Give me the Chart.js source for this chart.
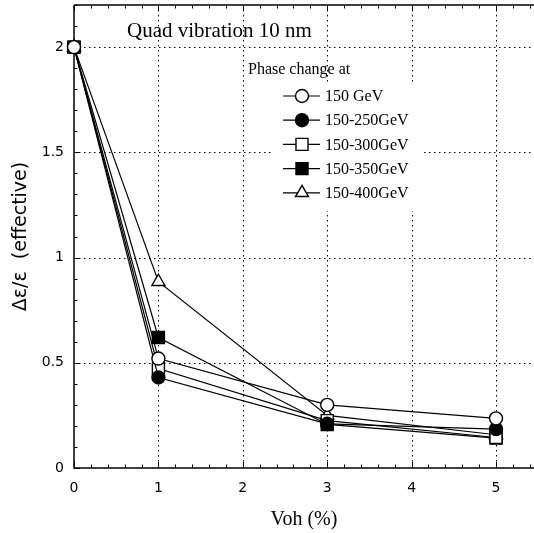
<!DOCTYPE html>
<html><head><meta charset="utf-8">
<script src="https://cdn.jsdelivr.net/npm/chart.js@4/dist/chart.umd.min.js"></script>
<style>html,body{margin:0;padding:0;background:#fff;}#wrap{width:534px;height:533px;}</style>
</head><body><div id="wrap"><canvas id="c" width="534" height="533"></canvas></div>
<script>
const xValues = [0, 1, 3, 5];
const series150 = [2.0, 0.52, 0.30, 0.236];
const series150_250 = [2.0, 0.43, 0.21, 0.185];
const series150_300 = [2.0, 0.473, 0.225, 0.145];
const series150_350 = [2.0, 0.62, 0.207, 0.142];
const series150_400 = [2.0, 0.885, 0.25, 0.158];
const seriesNames = ['150 GeV', '150-250GeV', '150-300GeV', '150-350GeV', '150-400GeV'];
const xTicks = [0, 1, 2, 3, 4, 5];
const yTicks = [0, 0.5, 1, 1.5, 2];
const yTickLabels = ['0', '0.5', '1', '1.5', '2'];
const chartTitle = 'Quad vibration 10 nm';
const legendTitle = 'Phase change at';
const xTitle = 'Voh (%)';
const yTitle = 'Δε/ε  (effective)';

function pts(arr){ return xValues.map((x,i)=>({x:x,y:arr[i]})); }
const styles = [
  {pointStyle:'circle', fill:'#fff', r:6.5},
  {pointStyle:'circle', fill:'#000', r:6.5},
  {pointStyle:'rect', fill:'#fff', r:8.5},
  {pointStyle:'rect', fill:'#000', r:8.5},
  {pointStyle:'triangle', fill:'#fff', r:7.5}
];
const allSeries = [series150, series150_250, series150_300, series150_350, series150_400];
const datasets = allSeries.map((s,i)=>({
  label: seriesNames[i],
  data: pts(s),
  borderColor:'#000', borderWidth:1.2,
  pointStyle: styles[i].pointStyle,
  pointRadius: styles[i].r,
  pointBackgroundColor: styles[i].fill,
  pointBorderColor:'#000', pointBorderWidth:1.4,
  showLine:true, tension:0, clip:false
}));

function noPad(s){ s.paddingTop = 0; s.paddingBottom = 0; s.paddingLeft = 0; s.paddingRight = 0; }

const decor = {
  id:'decor',
  beforeDatasetsDraw(chart){
    const ctx = chart.ctx, a = chart.chartArea;
    const xs = chart.scales.x, ys = chart.scales.y;
    ctx.save();
    ctx.strokeStyle = '#000'; ctx.lineWidth = 1; ctx.setLineDash([1.5,3.5]);
    xTicks.forEach(v=>{ if(v===0) return; const px = Math.round(xs.getPixelForValue(v))+0.5;
      ctx.beginPath(); ctx.moveTo(px,a.top); ctx.lineTo(px,a.bottom); ctx.stroke(); });
    yTicks.forEach(v=>{ if(v===0) return; const py = Math.round(ys.getPixelForValue(v))+0.5;
      ctx.beginPath(); ctx.moveTo(a.left,py); ctx.lineTo(a.right,py); ctx.stroke(); });
    ctx.setLineDash([]);
    ctx.fillStyle = '#fff';
    ctx.fillRect(272, 82, 150, 129);
    ctx.lineWidth = 1.5; ctx.strokeStyle = '#000';
    ctx.beginPath();
    ctx.moveTo(a.left, a.top); ctx.lineTo(a.left, a.bottom); ctx.lineTo(a.right, a.bottom);
    ctx.moveTo(a.left, a.top); ctx.lineTo(a.right, a.top);
    ctx.stroke();
    ctx.lineWidth = 1;
    for (let k=0; k<=27; k++){
      const v = k*0.2; if (v > xs.max) break;
      const px = Math.round(xs.getPixelForValue(v))+0.5;
      const len = (k%5===0) ? 6 : 3.5;
      ctx.beginPath(); ctx.moveTo(px,a.bottom); ctx.lineTo(px,a.bottom-len);
      ctx.moveTo(px,a.top); ctx.lineTo(px,a.top+len); ctx.stroke();
    }
    for (let k=0; k<=22; k++){
      const v = k*0.1; if (v > ys.max+1e-9) break;
      const py = Math.round(ys.getPixelForValue(v))+0.5;
      const len = (k%5===0) ? 6 : 3.5;
      ctx.beginPath(); ctx.moveTo(a.left,py); ctx.lineTo(a.left+len,py); ctx.stroke();
    }
    ctx.fillStyle = '#000';
    ctx.font = '21px "Liberation Serif", "DejaVu Serif", serif';
    ctx.textBaseline = 'middle'; ctx.textAlign = 'left';
    ctx.fillText(chartTitle, 127, 31);
    ctx.font = '16px "Liberation Serif", serif';
    ctx.fillText(legendTitle, 248, 70);
    ctx.restore();
  },
  afterDatasetsDraw(chart){
    const ctx = chart.ctx;
    ctx.save();
    const y0 = 96, dy = 24.2;
    chart.data.datasets.forEach((ds,i)=>{
      const y = y0 + i*dy;
      ctx.strokeStyle = '#000'; ctx.lineWidth = 1.2;
      ctx.beginPath(); ctx.moveTo(283,y); ctx.lineTo(320,y); ctx.stroke();
      ctx.fillStyle = ds.pointBackgroundColor; ctx.strokeStyle = '#000'; ctx.lineWidth = 1.4;
      Chart.helpers.drawPoint(ctx, {pointStyle: ds.pointStyle, radius: ds.pointRadius, borderWidth:1.4}, 302, y);
      ctx.fillStyle = '#000';
      ctx.font = '16px "Liberation Serif", serif';
      ctx.textBaseline = 'middle'; ctx.textAlign = 'left';
      ctx.fillText(ds.label, 325, y+1);
    });
    ctx.restore();
  }
};

new Chart(document.getElementById('c'), {
  type:'scatter',
  data:{datasets},
  plugins:[decor],
  options:{
    responsive:false, animation:false, devicePixelRatio:1,
    layout:{autoPadding:false, padding:{left:0,right:0,top:5,bottom:0}},
    plugins:{legend:{display:false}, tooltip:{enabled:false}},
    scales:{
      x:{type:'linear', min:0, max:5.45,
        afterBuildTicks: s=>{ s.ticks = xTicks.map(v=>({value:v})); },
        afterFit: s=>{ s.height = 65; noPad(s); },
        grid:{display:false, drawTicks:false}, border:{display:false},
        ticks:{color:'#000', padding:12, maxRotation:0, font:{family:'"DejaVu Sans", sans-serif', size:14}, callback:v=>String(v)},
        title:{display:true, text:xTitle, color:'#000', padding:{top:0,bottom:1}, font:{family:'"Liberation Serif", serif', size:20}}
      },
      y:{type:'linear', min:0, max:2.2,
        afterBuildTicks: s=>{ s.ticks = yTicks.map(v=>({value:v})); },
        afterFit: s=>{ s.width = 74; noPad(s); },
        grid:{display:false, drawTicks:false}, border:{display:false},
        ticks:{color:'#000', padding:10, font:{family:'"DejaVu Sans", sans-serif', size:14}, callback:(v)=>yTickLabels[yTicks.indexOf(v)] ?? String(v)},
        title:{display:true, text:yTitle, color:'#000', padding:{top:10,bottom:0}, font:{family:'"DejaVu Sans", sans-serif', size:19}}
      }
    }
  }
});
</script></body></html>
